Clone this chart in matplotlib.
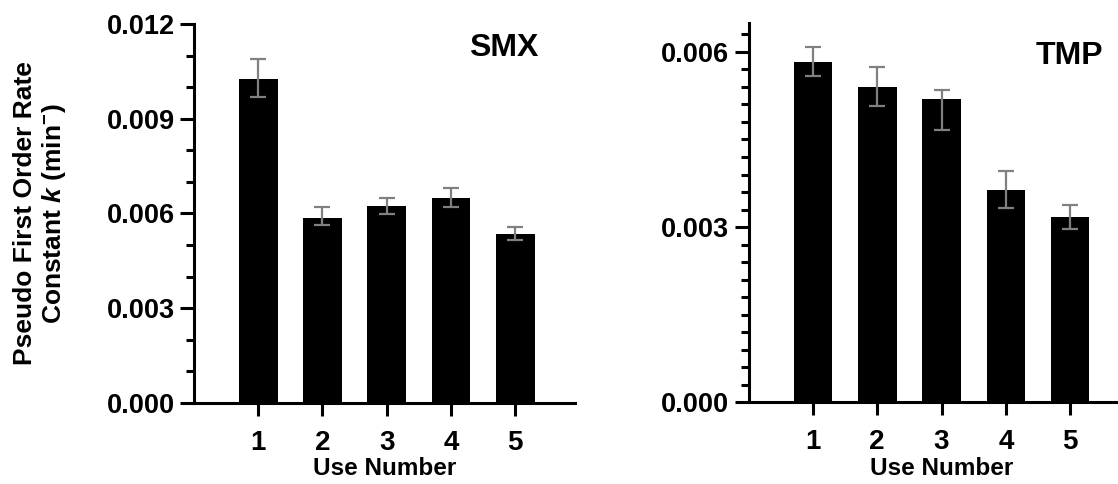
import numpy as np
import matplotlib
matplotlib.use('Agg')
import matplotlib.pyplot as plt
from matplotlib.ticker import MultipleLocator, FormatStrFormatter

plt.rcParams['font.family'] = ['Liberation Sans', 'DejaVu Sans']
plt.rcParams['font.weight'] = 'bold'
plt.rcParams['mathtext.fontset'] = 'custom'
plt.rcParams['mathtext.rm'] = 'Liberation Sans:bold'
plt.rcParams['mathtext.it'] = 'Liberation Sans:italic:bold'
plt.rcParams['mathtext.bf'] = 'Liberation Sans:bold'

uses = [1, 2, 3, 4, 5]

smx_k = [0.01027, 0.00586, 0.00623, 0.00648, 0.00535]
smx_err_lo = [0.00058, 0.00021, 0.00025, 0.00028, 0.00019]
smx_err_hi = [0.00061, 0.00035, 0.00025, 0.00032, 0.00021]

tmp_k = [0.00583, 0.00540, 0.00519, 0.00364, 0.00317]
tmp_err_lo = [0.00025, 0.00033, 0.00052, 0.00032, 0.00020]
tmp_err_hi = [0.00026, 0.00034, 0.00015, 0.00032, 0.00021]


def draw_panel(ax, vals, lo, hi, name, ymax, minor, xmax, title_xy):
    ax.bar(uses, vals, width=0.6, color='black', zorder=2)
    ax.errorbar(uses, vals, yerr=[lo, hi], fmt='none', ecolor='#808080',
                elinewidth=1.6, capsize=6, capthick=1.6, zorder=3)
    ax.set_xlim(0, xmax)
    ax.set_ylim(0, ymax)
    ax.yaxis.set_major_locator(MultipleLocator(0.003))
    ax.yaxis.set_minor_locator(MultipleLocator(minor))
    ax.yaxis.set_major_formatter(FormatStrFormatter('%.3f'))
    ax.set_xticks(uses)
    ax.spines['top'].set_visible(False)
    ax.spines['right'].set_visible(False)
    ax.spines['left'].set_linewidth(2.2)
    ax.spines['bottom'].set_linewidth(2.2)
    ax.tick_params(axis='y', which='major', length=10, width=2.2,
                   labelsize=19.5, pad=4)
    ax.tick_params(axis='y', which='minor', length=5.5, width=2.2)
    ax.tick_params(axis='x', which='major', length=9.5, width=2.2,
                   labelsize=20, pad=10)
    ax.set_xlabel('Use Number', fontsize=17.5, fontweight='bold', labelpad=1)
    ax.text(title_xy[0], title_xy[1], name, transform=ax.transAxes,
            ha='right', va='baseline', fontsize=23, fontweight='bold')


def main():
    fig = plt.figure(figsize=(11.18, 4.84), dpi=100)
    ax1 = fig.add_axes([0.1735, 0.1674, 0.3408, 0.7831])
    ax2 = fig.add_axes([0.6696, 0.1688, 0.3451, 0.7843])

    draw_panel(ax1, smx_k, smx_err_lo, smx_err_hi, 'SMX', 0.012, 0.001,
               5.93, (0.905, 0.915))
    draw_panel(ax2, tmp_k, tmp_err_lo, tmp_err_hi, 'TMP', 0.0065, 0.0003,
               6.0, (0.92, 0.89))

    ax1.set_ylabel('Pseudo First Order Rate\nConstant $\\it{k}$ (min$^{-}$)',
                   fontsize=19, fontweight='bold', labelpad=28,
                   linespacing=1.1)

    fig.savefig('out.png', dpi=100)


if __name__ == '__main__':
    main()
